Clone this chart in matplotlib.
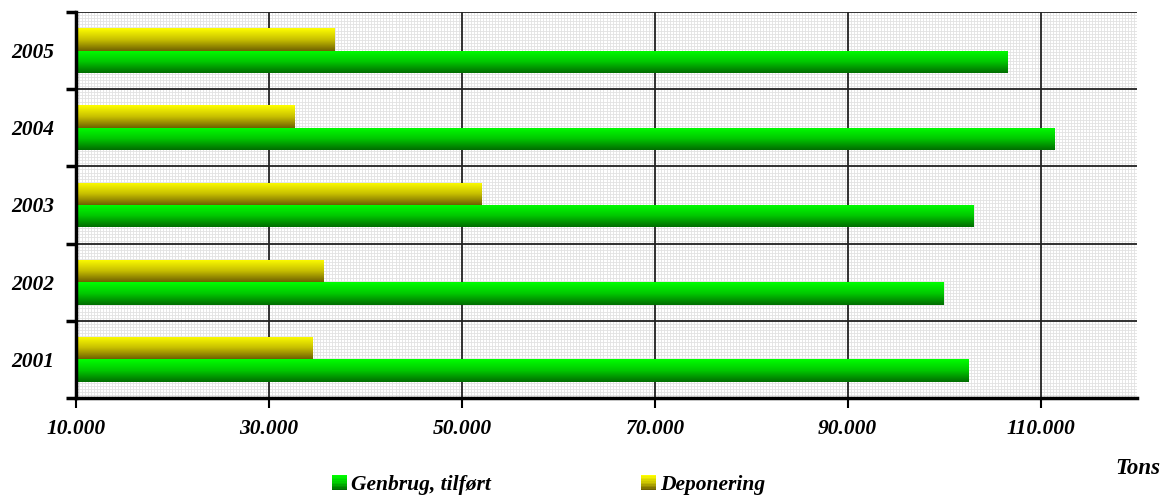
import numpy as np
import matplotlib
matplotlib.use("Agg")
import matplotlib.pyplot as plt
from matplotlib.colors import LinearSegmentedColormap
from matplotlib.legend_handler import HandlerBase
from matplotlib.patches import Rectangle
from matplotlib.font_manager import FontProperties

years = ["2001", "2002", "2003", "2004", "2005"]
genbrug = [102500, 99900, 103000, 111450, 106600]
deponering = [34500, 35650, 52050, 32700, 36800]
x_ticks = [10000, 30000, 50000, 70000, 90000, 110000]
x_labels = ["10.000", "30.000", "50.000", "70.000", "90.000", "110.000"]
series_names = ["Genbrug, tilført", "Deponering"]

FONT = dict(family="Liberation Serif", weight="bold", style="italic")

green_cmap = LinearSegmentedColormap.from_list("g", ["#006c00", "#00c800", "#00ff00"])
yellow_cmap = LinearSegmentedColormap.from_list("y", ["#6e6000", "#c8c000", "#ffff00"])

fig = plt.figure(figsize=(11.62, 4.95), dpi=100)
ax = fig.add_axes([76/1162, 97/495, (1137-76)/1162, (398-12)/495])

XMIN, XMAX = 10000, 120000
ax.set_xlim(XMIN, XMAX)
ax.set_ylim(-0.5, len(years) - 0.5)

# fine background grid
ax.vlines(np.arange(XMIN, XMAX + 1, 20000 / 64), -0.5, len(years) - 0.5,
          color="#e2e2e2", lw=0.6, zorder=0)
ax.hlines(np.arange(-0.5, len(years) - 0.5 + 1e-9, 1 / 25), XMIN, XMAX,
          color="#e2e2e2", lw=0.6, zorder=0)

y = np.arange(len(years))
h = 0.29
grad = np.linspace(0, 1, 256).reshape(-1, 1)

def gradient_bars(vals, offset, cmap):
    bars = ax.barh(y + offset, np.array(vals) - XMIN, left=XMIN, height=h,
                   color="none", edgecolor="none", zorder=3)
    for b in bars:
        x0, y0 = b.get_x(), b.get_y()
        w, hh = b.get_width(), b.get_height()
        im = ax.imshow(grad, cmap=cmap, aspect="auto", origin="lower",
                       extent=[x0, x0 + w, y0, y0 + hh], zorder=3,
                       interpolation="bilinear")
        im.set_clip_path(b)
    return bars

gradient_bars(genbrug, -h / 2, green_cmap)
gradient_bars(deponering, h / 2, yellow_cmap)
ax.set_xlim(XMIN, XMAX)
ax.set_ylim(-0.5, len(years) - 0.5)
ax.set_aspect("auto")

# major grid
for xv in x_ticks:
    ax.axvline(xv, color="#222222", lw=1.3, zorder=2)
for yb in np.arange(-0.5, len(years), 1.0):
    ax.axhline(yb, color="#222222", lw=1.3, zorder=2)

ax.set_xticks(x_ticks, labels=x_labels)
ax.set_yticks(y, labels=years)
ax.set_yticks(np.arange(-0.5, len(years), 1.0), minor=True)
ax.tick_params(axis="y", which="major", length=0, pad=16)
ax.tick_params(axis="y", which="minor", length=7, width=2.5, color="black")
ax.tick_params(axis="x", which="major", length=7, width=1.5, pad=8)
for lbl in ax.get_xticklabels() + ax.get_yticklabels():
    lbl.set_fontproperties(FontProperties(size=15.5, **FONT))

for s in ["top", "right"]:
    ax.spines[s].set_visible(False)
for s in ["left", "bottom"]:
    ax.spines[s].set_linewidth(2.5)
    ax.spines[s].set_zorder(5)

fig.text(1160/1162, (495-468)/495, "Tons", ha="right", va="center", fontsize=16.5, **FONT)


class GradHandler(HandlerBase):
    def __init__(self, cmap):
        super().__init__()
        self.cmap = cmap

    def create_artists(self, legend, orig_handle, xdescent, ydescent, width,
                       height, fontsize, trans):
        n = 10
        side = height * 1.0
        x0 = -xdescent + width - side
        y0 = -ydescent + (height - side) / 2
        arts = []
        for i in range(n):
            r = Rectangle((x0, y0 + side * i / n), side, side / n + 0.3,
                          facecolor=self.cmap(i / (n - 1)), edgecolor="none",
                          transform=trans)
            arts.append(r)
        return arts


h1 = Rectangle((0, 0), 1, 1)
h2 = Rectangle((0, 0), 1, 1)
leg = fig.legend([h1, h2], series_names, ncol=2, loc="center",
                 bbox_to_anchor=(548/1162, (495-485)/495), frameon=False,
                 handler_map={h1: GradHandler(green_cmap), h2: GradHandler(yellow_cmap)},
                 prop=FontProperties(size=15.5, **FONT),
                 handlelength=0.75, handletextpad=0.2, columnspacing=6.9)

fig.savefig("out.png", dpi=100)
